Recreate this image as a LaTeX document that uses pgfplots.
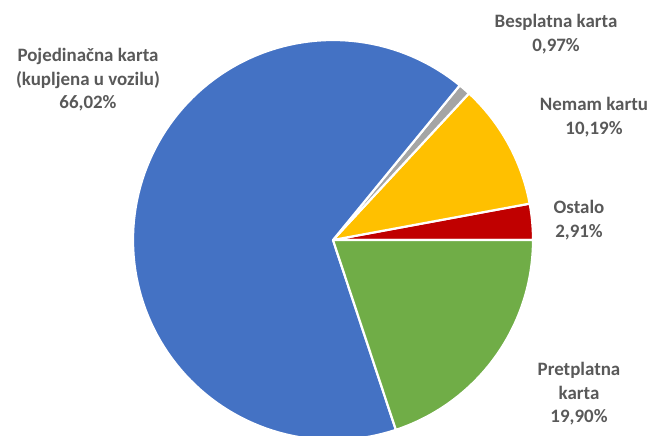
\documentclass[border=0pt]{standalone}
\usepackage{pgfplots}
\pgfplotsset{compat=1.18}
\usepackage{fontspec}
\setmainfont{Carlito}

\definecolor{pieblue}{HTML}{4472C4}
\definecolor{piegray}{HTML}{A5A5A5}
\definecolor{pieyellow}{HTML}{FFC000}
\definecolor{piered}{HTML}{C00000}
\definecolor{piegreen}{HTML}{70AD47}
\definecolor{labelgray}{HTML}{595959}

% centre and radius of the pie, in pixel units of the axis
\def\cx{333}
\def\cy{196}
\def\rr{200}

% slice from cumulative percentage #1 to #2
\newcommand\slice[3]{%
  \addplot[fill=#3, draw=white, line width=2.2pt, line join=round,
    domain={#1*3.6}:{#2*3.6}, samples=120, variable=\t]
    ({\cx+\rr*cos(\t)}, {\cy+\rr*sin(\t)}) -- (axis cs:\cx,\cy) -- cycle;
}

\tikzset{lbl/.style={align=center, text=labelgray,
  font=\fontsize{19}{23.5}\selectfont\bfseries}}

\begin{document}
\begin{tikzpicture}
\begin{axis}[
    name=ax,
    scale only axis,
    width=654bp, height=436bp,
    xmin=0, xmax=654, ymin=0, ymax=436,
    hide axis,
]
% shares: Ostalo 2.91, Nemam kartu 10.19, Besplatna 0.97,
% Pojedinacna 66.02, Pretplatna 19.90
\slice{0}{2.91}{piered}
\slice{2.91}{13.10}{pieyellow}
\slice{13.10}{14.07}{piegray}
\slice{14.07}{80.09}{pieblue}
\slice{80.09}{100}{piegreen}

\node[lbl] at (axis cs:88,356) {Pojedinačna karta\\(kupljena u vozilu)\\66,02\%};
\node[lbl] at (axis cs:556,402) {Besplatna karta\\0,97\%};
\node[lbl] at (axis cs:594,319) {Nemam kartu\\10,19\%};
\node[lbl] at (axis cs:579,216) {Ostalo\\2,91\%};
\node[lbl] at (axis cs:579,42) {Pretplatna\\karta\\19,90\%};
\end{axis}
\pgfresetboundingbox
\path[use as bounding box] (ax.south west) rectangle (ax.north east);
\end{tikzpicture}
\end{document}
